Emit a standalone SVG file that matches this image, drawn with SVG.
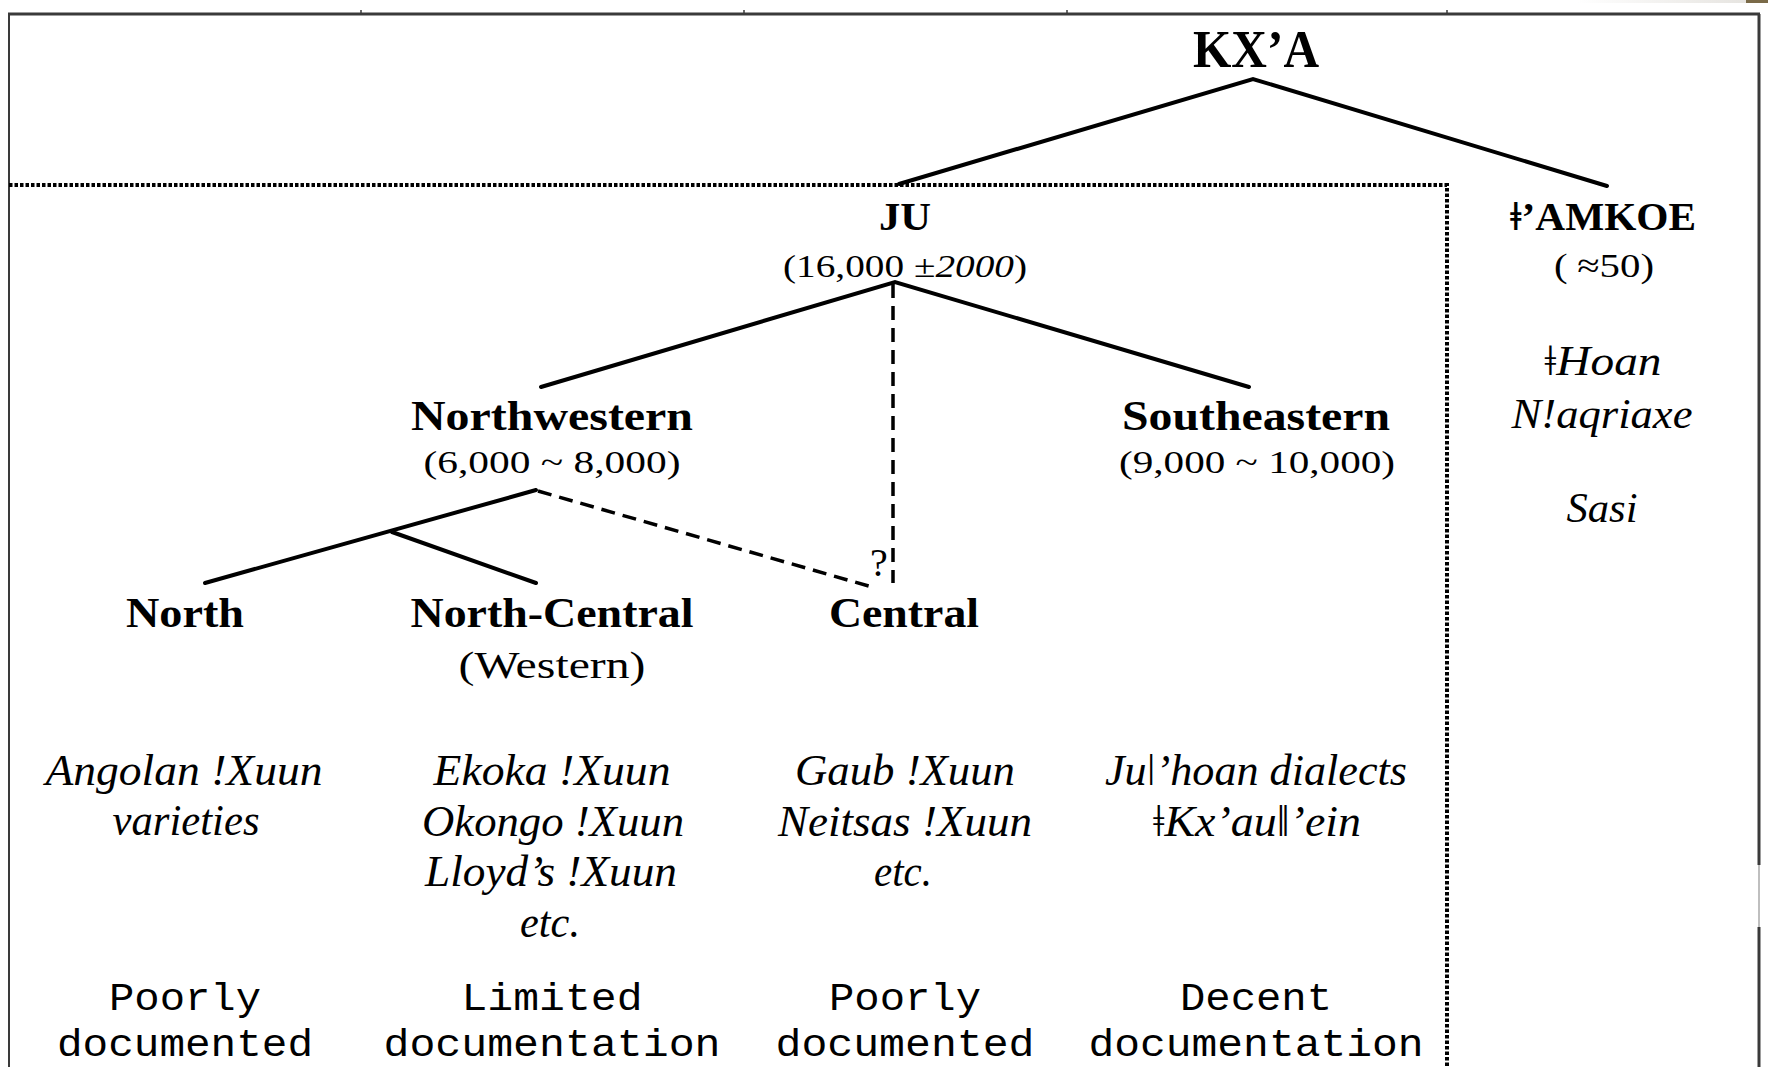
<svg xmlns="http://www.w3.org/2000/svg" width="1768" height="1067" viewBox="0 0 1768 1067">
<defs>
<linearGradient id="tg" x1="0" y1="0" x2="1" y2="0">
<stop offset="0" stop-color="#ffffff"/>
<stop offset="1" stop-color="#e6e4e0"/>
</linearGradient>
</defs>
<style>
text{text-anchor:middle;fill:#000}
.b{font-family:"Liberation Serif","DejaVu Serif",serif;font-weight:bold;font-size:42px}
.r{font-family:"Liberation Serif","DejaVu Serif",serif;font-size:31px}
.i{font-family:"Liberation Serif","DejaVu Serif",serif;font-style:italic;font-size:44px}
.m{font-family:"Liberation Mono","DejaVu Sans Mono",monospace;font-size:38px}
.q{font-family:"Liberation Serif","DejaVu Serif",serif;font-size:40px}
.solid{stroke:#000;stroke-width:4;fill:none;stroke-linecap:round}
.dash{stroke:#000;stroke-width:3.5;fill:none;stroke-dasharray:14 8}
.dot{stroke:#000;stroke-width:4;fill:none;stroke-dasharray:3.5 2}
.frame{stroke:#3a3a3a;fill:none}
</style>
<rect width="1768" height="1067" fill="#fff"/>
<rect x="1577" y="0" width="170" height="3" fill="url(#tg)"/>
<rect x="1746" y="0" width="22" height="3" fill="#7a6a48"/>
<g id="frame">
<line class="frame" x1="8" y1="14" x2="1760" y2="14" stroke-width="3"/>
<line class="frame" x1="9" y1="14" x2="9" y2="1067" stroke-width="2"/>
<line class="frame" x1="1759" y1="14" x2="1759" y2="865" stroke-width="3"/>
<line x1="1759" y1="865" x2="1759" y2="927" stroke="#aaa" stroke-width="1.5"/>
<line class="frame" x1="1759" y1="927" x2="1759" y2="1067" stroke-width="3"/>
<path class="frame" stroke-width="1.5" d="M361 10V14M744 10V14M1067 10V14M1447 10V14"/>
<path class="dot" d="M9 185H1447V1067"/>
</g>
<g id="connectors">
<polyline class="solid" points="899,184 1253,79 1607,186"/>
<polyline class="solid" points="541,387 895,282 1249,387"/>
<line class="dash" x1="893" y1="284" x2="893" y2="583"/>
<polyline class="solid" points="205,583 536,490"/>
<line class="solid" x1="392" y1="532" x2="536" y2="583"/>
<line class="dash" x1="538" y1="491" x2="872" y2="587"/>
</g>
<g id="kxa"><text class="b" x="1256" y="67" style="font-size:52px" textLength="126" lengthAdjust="spacingAndGlyphs">KX’A</text></g>
<g id="ju">
<text class="b" x="905" y="230" style="font-size:40px" textLength="52" lengthAdjust="spacingAndGlyphs">JU</text>
<text class="r" x="905" y="277" textLength="244" lengthAdjust="spacingAndGlyphs">(16,000 <tspan font-style="italic">±2000</tspan>)</text>
</g>
<g id="amkoe">
<text class="b" x="1603" y="230" style="font-size:40px" textLength="186" lengthAdjust="spacingAndGlyphs">ǂ’AMKOE</text>
<text class="r" x="1604" y="277" style="font-size:34px" textLength="100" lengthAdjust="spacingAndGlyphs">(<tspan dx="8">≈</tspan>50)</text>
<text class="i" x="1603" y="375" style="font-size:42px" textLength="117" lengthAdjust="spacingAndGlyphs">ǂHoan</text>
<text class="i" x="1602" y="428" style="font-size:42px" textLength="181" lengthAdjust="spacingAndGlyphs">N!aqriaxe</text>
<text class="i" x="1602" y="522" style="font-size:42px" textLength="71" lengthAdjust="spacingAndGlyphs">Sasi</text>
</g>
<g id="northwestern">
<text class="b" x="552" y="430" textLength="282" lengthAdjust="spacingAndGlyphs">Northwestern</text>
<text class="r" x="552" y="473" textLength="257" lengthAdjust="spacingAndGlyphs">(6,000 ~ 8,000)</text>
</g>
<g id="southeastern">
<text class="b" x="1256" y="430" textLength="268" lengthAdjust="spacingAndGlyphs">Southeastern</text>
<text class="r" x="1257" y="473" textLength="276" lengthAdjust="spacingAndGlyphs">(9,000 ~ 10,000)</text>
<text class="i" x="1256" y="785" textLength="302" lengthAdjust="spacingAndGlyphs">Juǀ’hoan dialects</text>
<text class="i" x="1257" y="836" textLength="208" lengthAdjust="spacingAndGlyphs">ǂKx’auǁ’ein</text>
<text class="m" x="1256" y="1010" textLength="152" lengthAdjust="spacingAndGlyphs">Decent</text>
<text class="m" x="1256" y="1056" textLength="335" lengthAdjust="spacingAndGlyphs">documentation</text>
</g>
<g id="north">
<text class="b" x="185" y="627" textLength="118" lengthAdjust="spacingAndGlyphs">North</text>
<text class="i" x="184" y="785" textLength="277" lengthAdjust="spacingAndGlyphs">Angolan !Xuun</text>
<text class="i" x="186" y="835" textLength="147" lengthAdjust="spacingAndGlyphs">varieties</text>
<text class="m" x="185" y="1010" textLength="152" lengthAdjust="spacingAndGlyphs">Poorly</text>
<text class="m" x="185" y="1056" textLength="256" lengthAdjust="spacingAndGlyphs">documented</text>
</g>
<g id="north-central">
<text class="b" x="552" y="627" textLength="283" lengthAdjust="spacingAndGlyphs">North-Central</text>
<text class="r" x="552" y="678" style="font-size:38px" textLength="187" lengthAdjust="spacingAndGlyphs">(Western)</text>
<text class="i" x="552" y="785" textLength="237" lengthAdjust="spacingAndGlyphs">Ekoka !Xuun</text>
<text class="i" x="553" y="836" textLength="262" lengthAdjust="spacingAndGlyphs">Okongo !Xuun</text>
<text class="i" x="551" y="886" textLength="252" lengthAdjust="spacingAndGlyphs">Lloyd’s !Xuun</text>
<text class="i" x="550" y="937" textLength="60" lengthAdjust="spacingAndGlyphs">etc.</text>
<text class="m" x="552" y="1010" textLength="181" lengthAdjust="spacingAndGlyphs">Limited</text>
<text class="m" x="552" y="1056" textLength="337" lengthAdjust="spacingAndGlyphs">documentation</text>
</g>
<g id="central">
<text class="b" x="904" y="627" textLength="150" lengthAdjust="spacingAndGlyphs">Central</text>
<text class="q" x="879" y="576">?</text>
<text class="i" x="905" y="785" textLength="220" lengthAdjust="spacingAndGlyphs">Gaub !Xuun</text>
<text class="i" x="905" y="836" textLength="254" lengthAdjust="spacingAndGlyphs">Neitsas !Xuun</text>
<text class="i" x="903" y="886" textLength="58" lengthAdjust="spacingAndGlyphs">etc.</text>
<text class="m" x="905" y="1010" textLength="152" lengthAdjust="spacingAndGlyphs">Poorly</text>
<text class="m" x="905" y="1056" textLength="259" lengthAdjust="spacingAndGlyphs">documented</text>
</g>
</svg>
